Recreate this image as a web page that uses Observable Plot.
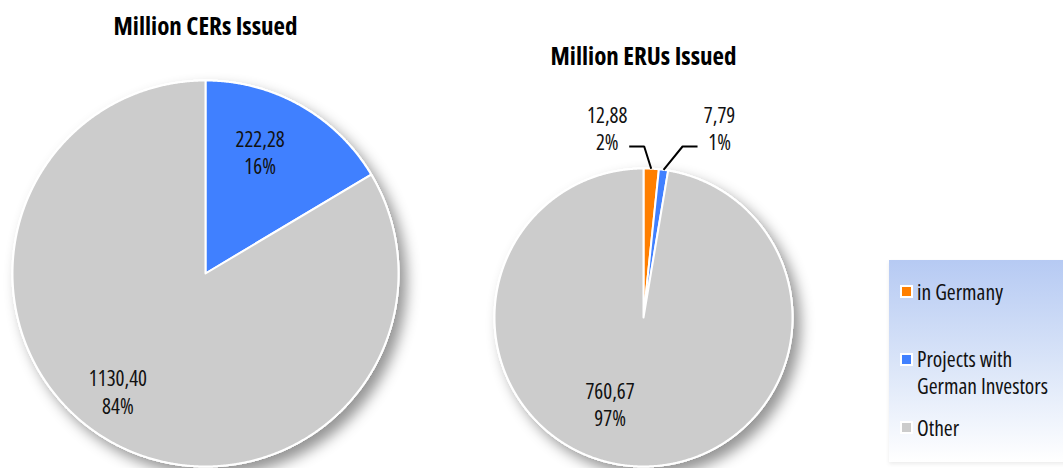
<!DOCTYPE html>
<html><head><meta charset="utf-8">
<script src="https://cdn.jsdelivr.net/npm/d3@7"></script>
<script src="https://cdn.jsdelivr.net/npm/@observablehq/plot@0.6"></script>
<style>
body{margin:0;background:#fff;}
#wrap{position:relative;width:1063px;height:468px;overflow:hidden;font-family:"Open Sans",sans-serif;font-stretch:75%;}
#legend{position:absolute;left:889px;top:260px;width:190px;height:202px;background:linear-gradient(#b6caf3 0%,#d9e4f8 50%,#ffffff 100%);box-shadow:0 2px 4px rgba(0,0,0,0.08);}
.item{position:absolute;font-size:21.5px;line-height:27px;color:#111;font-stretch:75%;}
.sw{position:absolute;width:9px;height:9px;border:2px solid #fff;}
</style>
</head><body>
<div id="wrap"></div>
<script>
// ---- data ----
const categories = ["in Germany", "Projects with German Investors", "Other"];
const categoryColors = ["#ff7f00", "#4080ff", "#cccccc"];
const legendLabels = ["in Germany", "Projects with<br>German Investors", "Other"];
const cerTitle = "Million CERs Issued";
const cerCategories = ["Projects with German Investors", "Other"];
const cerValues = [222.28, 1130.40];
const eruTitle = "Million ERUs Issued";
const eruCategories = ["in Germany", "Projects with German Investors", "Other"];
const eruValues = [12.88, 7.79, 760.67];

// ---- layout ----
const W = 1063, H = 468;
const pies = [
  {title: cerTitle, cats: cerCategories, vals: cerValues, cx: 205, cy: 273, r: 193, titleY: 26, k: 0.72,
   nudge: [[-14, -1], [-19, -3]], outside: [null, null]},
  {title: eruTitle, cats: eruCategories, vals: eruValues, cx: 643, cy: 317, r: 149, titleY: 56, k: 0.6,
   nudge: [[0, 0], [0, 0], [-26, -3]], outside: [{side: -1, ex: -7}, {side: 1, ex: 19}, null]}
];

const locale = d3.formatLocale({decimal: ",", thousands: ".", grouping: [3], currency: ["", "€"]});
const fmtV = locale.format(".2f");
const fmtP = d3.format(".0%");
const colorOf = c => categoryColors[categories.indexOf(c)];
const polar = (p, a, rr) => [p.cx + rr * Math.sin(a), p.cy - rr * Math.cos(a)];

const slices = [], outlines = [], labels = [], leaders = [], titlesData = [];
pies.forEach((p, pi) => {
  const data = p.cats.map((c, i) => ({cat: c, v: p.vals[i], i}));
  const total = d3.sum(data, d => d.v);
  const arcs = d3.pie().sort(null).value(d => d.v)(data);
  titlesData.push({x: p.cx, y: p.titleY, t: p.title});
  const outline = [];
  arcs.forEach(a => {
    const pts = [{x: p.cx, y: p.cy}];
    const n = Math.max(2, Math.ceil((a.endAngle - a.startAngle) / 0.005));
    for (let j = 0; j <= n; j++) {
      const ang = a.startAngle + (a.endAngle - a.startAngle) * j / n;
      const [x, y] = polar(p, ang, p.r);
      pts.push({x, y});
      outline.push({x, y});
    }
    slices.push({pts, col: colorOf(a.data.cat)});
    const mid = (a.startAngle + a.endAngle) / 2;
    const txt = fmtV(a.data.v) + "\n" + fmtP(a.data.v / total);
    const o = p.outside[a.data.i];
    if (o) {
      const [ax, ay] = polar(p, mid, p.r);
      const elbow = [ax + o.ex, p.cy - p.r - 22];
      const end = [elbow[0] + o.side * 15, elbow[1]];
      const id = pi + "-" + a.data.i;
      [[ax, ay], elbow, end].forEach(([x, y]) => leaders.push({x, y, id}));
      labels.push({x: end[0] + o.side * 22, y: elbow[1] - 19, t: txt});
    } else {
      const [x, y] = polar(p, mid, p.r * p.k);
      const nd = p.nudge[a.data.i];
      labels.push({x: x + nd[0], y: y + nd[1], t: txt});
    }
  });
  outlines.push(outline);
});

const font = '"Open Sans",sans-serif';
const chart = Plot.plot({
  width: W, height: H, margin: 0,
  x: {type: "identity"}, y: {type: "identity"},
  axis: null,
  style: {fontFamily: font, background: "white", overflow: "visible"},
  marks: [
    ...outlines.map(o => Plot.line(o, {x: "x", y: "y", fill: "#cccccc", stroke: "white", strokeWidth: 2, curve: "linear-closed"})),
    ...slices.map(s => Plot.line(s.pts, {x: "x", y: "y", fill: s.col, stroke: "white", strokeWidth: 2,
      strokeLinejoin: "round", curve: "linear-closed"})),
    Plot.line(leaders, {x: "x", y: "y", z: "id", stroke: "black", strokeWidth: 2, strokeLinecap: "butt", strokeLinejoin: "miter"}),
    Plot.text(labels, {x: "x", y: "y", text: "t", fontSize: 21, lineHeight: 1.29, fill: "#111", textAnchor: "middle"}),
    Plot.text(titlesData, {x: "x", y: "y", text: "t", fontSize: 25, fontWeight: "bold", fill: "#000"})
  ]
});
chart.style.fontStretch = "75%";
document.getElementById("wrap").appendChild(chart);
const svg = d3.select(chart);
const defs = svg.insert("defs", ":first-child");
const f = defs.append("filter").attr("id", "pieShadow").attr("x", "-20%").attr("y", "-20%").attr("width", "140%").attr("height", "140%");
f.append("feDropShadow").attr("dx", 7).attr("dy", 8).attr("stdDeviation", 7).attr("flood-color", "#000").attr("flood-opacity", 0.42);
svg.selectAll('g[aria-label="line"]').filter((d, i) => i < outlines.length).attr("filter", "url(#pieShadow)");

// legend
const leg = document.createElement("div");
leg.id = "legend";
const tops = [18, 85, 154];
const swTops = [7, 8, 7];
categories.forEach((c, i) => {
  const it = document.createElement("div");
  it.className = "item";
  it.style.top = tops[i] + "px";
  it.style.left = "28px";
  it.innerHTML = legendLabels[i];
  leg.appendChild(it);
  const sw = document.createElement("div");
  sw.className = "sw";
  sw.style.left = "11px";
  sw.style.top = (tops[i] + swTops[i]) + "px";
  sw.style.background = categoryColors[i];
  leg.appendChild(sw);
});
document.getElementById("wrap").appendChild(leg);
</script>
</body></html>
